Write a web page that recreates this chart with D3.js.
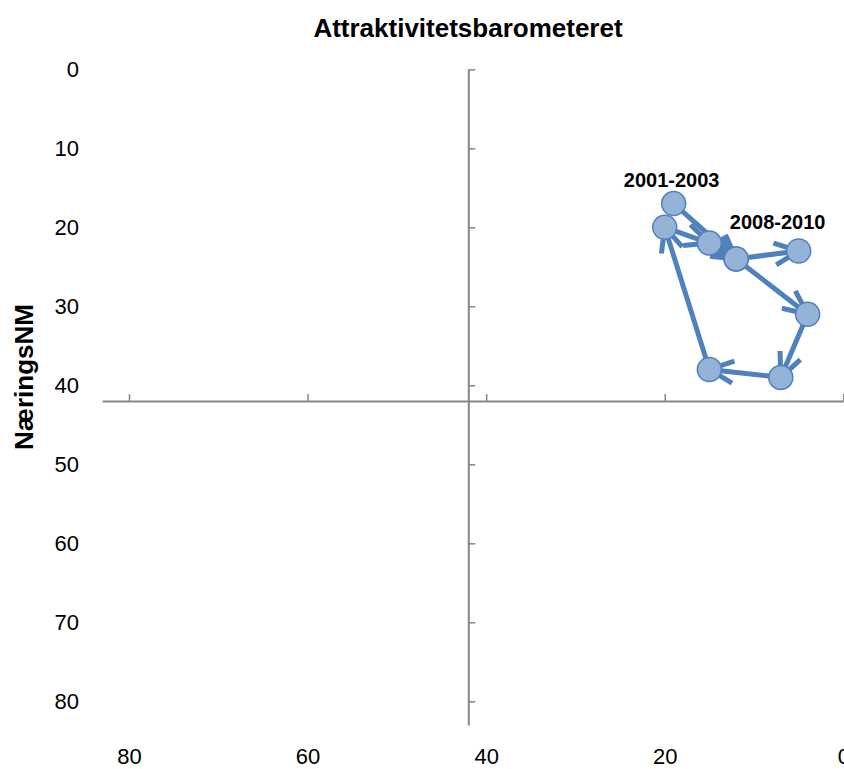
<!DOCTYPE html>
<html>
<head>
<meta charset="utf-8">
<script src="https://cdn.jsdelivr.net/npm/d3@7"></script>
<style>
  html, body { margin: 0; padding: 0; background: #fff; }
  svg { display: block; font-family: "Liberation Sans", Arial, Helvetica, sans-serif; }
</style>
</head>
<body>
<svg id="chart" width="844" height="769"></svg>
<script>
// ---- data ----
const chartTitle = "Attraktivitetsbarometeret";
const yAxisTitle = "NæringsNM";
const xTicks = [0, 20, 40, 60, 80];
const yTicks = [0, 10, 20, 30, 40, 50, 60, 70, 80];
// path through the periods (x = rank, y = NæringsNM rank)
const xValues = [19, 12, 4, 7, 15, 20, 15, 12, 5];
const yValues = [17, 24, 31, 39, 38, 20, 22, 24, 23];
const pointLabels = ["2001-2003", "", "", "", "", "", "", "", "2008-2010"];
const axisMax = 83;
const crossAt = 42;

// ---- layout ----
const svg = d3.select("#chart");
const x = d3.scaleLinear().domain([axisMax, 0]).range([102.2, 843.3]);
const y = d3.scaleLinear().domain([0, axisMax]).range([69.3, 725]);
const axisColor = "#868686";
const lineColor = "#4F81BD";
const markerFill = "#95B3D7";

// title
svg.append("text")
  .attr("x", 468).attr("y", 37)
  .attr("text-anchor", "middle")
  .attr("font-weight", "bold")
  .attr("font-size", 26)
  .text(chartTitle);

// y axis title
svg.append("text")
  .attr("transform", "translate(33,377) rotate(-90)")
  .attr("text-anchor", "middle")
  .attr("font-weight", "bold")
  .attr("font-size", 26)
  .text(yAxisTitle);

// horizontal axis line (crossing at y = 42) with ticks pointing up
const xAxisLine = svg.append("g")
  .attr("transform", `translate(0,${y(crossAt)})`)
  .call(d3.axisTop(x).tickValues(xTicks).tickSizeInner(7).tickSizeOuter(0).tickFormat(""));
xAxisLine.select(".domain").attr("stroke", axisColor).attr("stroke-width", 2);
xAxisLine.selectAll(".tick line").attr("stroke", axisColor).attr("stroke-width", 1.5);

// vertical axis line (crossing at x = 42) with ticks pointing right
const yAxisLine = svg.append("g")
  .attr("transform", `translate(${x(crossAt)},0)`)
  .call(d3.axisRight(y).tickValues(yTicks).tickSizeInner(7).tickSizeOuter(0).tickFormat(""));
yAxisLine.select(".domain").attr("stroke", axisColor).attr("stroke-width", 2);
yAxisLine.selectAll(".tick line").attr("stroke", axisColor).attr("stroke-width", 1.5);

// x tick labels at the bottom
const xLab = svg.append("g")
  .attr("transform", "translate(0,748)")
  .call(d3.axisBottom(x).tickValues(xTicks).tickSize(0).tickPadding(0).tickFormat(d3.format("d")));
xLab.select(".domain").remove();
xLab.selectAll("text").attr("font-size", 22).attr("fill", "#000")
  .attr("font-family", "Liberation Sans, Arial, sans-serif");

// y tick labels on the left
const yLab = svg.append("g")
  .attr("transform", "translate(79,0)")
  .call(d3.axisLeft(y).tickValues(yTicks).tickSize(0).tickPadding(0).tickFormat(d3.format("d")));
yLab.select(".domain").remove();
yLab.selectAll("text").attr("font-size", 22).attr("fill", "#000")
  .attr("font-family", "Liberation Sans, Arial, sans-serif");

// ---- series ----
const pts = xValues.map((v, i) => ({ px: x(v), py: y(yValues[i]), label: pointLabels[i] }));
const segs = d3.range(pts.length - 1).map(i => [pts[i], pts[i + 1]]);

const lineG = svg.append("g");
lineG.selectAll("line.seg").data(segs).join("line")
  .attr("class", "seg")
  .attr("x1", d => d[0].px).attr("y1", d => d[0].py)
  .attr("x2", d => d[1].px).attr("y2", d => d[1].py)
  .attr("stroke", lineColor).attr("stroke-width", 5);

// open arrowheads at segment ends
const back = 24, half = 11;
lineG.selectAll("path.arrow").data(segs).join("path")
  .attr("class", "arrow")
  .attr("d", d => {
    const dx = d[1].px - d[0].px, dy = d[1].py - d[0].py;
    const len = Math.hypot(dx, dy);
    const ux = dx / len, uy = dy / len;
    const bx = d[1].px - ux * back, by = d[1].py - uy * back;
    const p1 = [bx - uy * half, by + ux * half];
    const p2 = [bx + uy * half, by - ux * half];
    return `M${p1[0]},${p1[1]}L${d[1].px},${d[1].py}L${p2[0]},${p2[1]}`;
  })
  .attr("fill", "none").attr("stroke", lineColor).attr("stroke-width", 5)
  .attr("stroke-linejoin", "miter");

// markers
svg.append("g").selectAll("circle").data(pts).join("circle")
  .attr("cx", d => d.px).attr("cy", d => d.py).attr("r", 12)
  .attr("fill", markerFill).attr("stroke", lineColor).attr("stroke-width", 1.5);

// labels
const labelOffsets = { "2001-2003": [-2, -17], "2008-2010": [-21, -22] };
svg.append("g").selectAll("text").data(pts.filter(d => d.label)).join("text")
  .attr("x", d => d.px + labelOffsets[d.label][0])
  .attr("y", d => d.py + labelOffsets[d.label][1])
  .attr("text-anchor", "middle")
  .attr("font-weight", "bold").attr("font-size", 20)
  .text(d => d.label);
</script>
</body>
</html>
